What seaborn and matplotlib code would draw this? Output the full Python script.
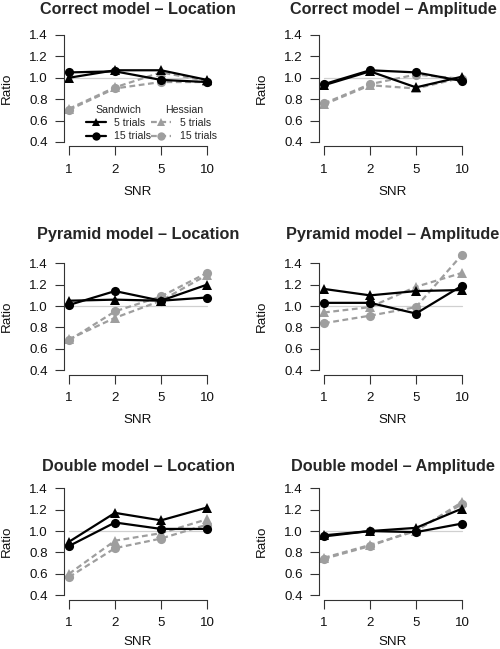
import numpy as np
import pandas as pd
import matplotlib
matplotlib.use("Agg")
import matplotlib.pyplot as plt
from matplotlib.lines import Line2D
import seaborn as sns

# SNR levels on the x axis (plotted as evenly spaced categories)
snr = [1, 2, 5, 10]

series_names = ["Hessian 5 trials", "Hessian 15 trials", "Sandwich 5 trials", "Sandwich 15 trials"]

# ratio values per panel
correct_location = {
    "Sandwich 5 trials": [1.00, 1.07, 1.07, 0.98],
    "Sandwich 15 trials": [1.05, 1.06, 0.98, 0.96],
    "Hessian 5 trials": [0.71, 0.91, 1.05, 0.97],
    "Hessian 15 trials": [0.70, 0.90, 0.96, 0.96],
}
correct_amplitude = {
    "Sandwich 5 trials": [0.93, 1.06, 0.91, 1.01],
    "Sandwich 15 trials": [0.94, 1.07, 1.05, 0.97],
    "Hessian 5 trials": [0.75, 0.93, 0.90, 1.00],
    "Hessian 15 trials": [0.76, 0.94, 1.03, 0.99],
}
pyramid_location = {
    "Sandwich 5 trials": [1.05, 1.06, 1.05, 1.20],
    "Sandwich 15 trials": [1.01, 1.14, 1.05, 1.08],
    "Hessian 5 trials": [0.69, 0.89, 1.05, 1.29],
    "Hessian 15 trials": [0.68, 0.95, 1.09, 1.31],
}
pyramid_amplitude = {
    "Sandwich 5 trials": [1.16, 1.10, 1.14, 1.15],
    "Sandwich 15 trials": [1.03, 1.03, 0.93, 1.19],
    "Hessian 5 trials": [0.94, 0.99, 1.18, 1.31],
    "Hessian 15 trials": [0.84, 0.91, 0.99, 1.48],
}
double_location = {
    "Sandwich 5 trials": [0.90, 1.17, 1.10, 1.22],
    "Sandwich 15 trials": [0.86, 1.08, 1.02, 1.02],
    "Hessian 5 trials": [0.60, 0.91, 0.98, 1.11],
    "Hessian 15 trials": [0.57, 0.84, 0.93, 1.06],
}
double_amplitude = {
    "Sandwich 5 trials": [0.96, 1.00, 1.03, 1.21],
    "Sandwich 15 trials": [0.95, 1.00, 0.99, 1.07],
    "Hessian 5 trials": [0.75, 0.87, 1.00, 1.27],
    "Hessian 15 trials": [0.74, 0.86, 1.01, 1.25],
}

panels = [
    ("Correct model \u2013 Location", correct_location),
    ("Correct model \u2013 Amplitude", correct_amplitude),
    ("Pyramid model \u2013 Location", pyramid_location),
    ("Pyramid model \u2013 Amplitude", pyramid_amplitude),
    ("Double model \u2013 Location", double_location),
    ("Double model \u2013 Amplitude", double_amplitude),
]

sns.set_style("ticks")
plt.rcParams['font.family'] = ['Liberation Sans', 'DejaVu Sans']

GREY = '#9e9e9e'
palette = {"Sandwich 5 trials": 'black', "Sandwich 15 trials": 'black',
           "Hessian 5 trials": GREY, "Hessian 15 trials": GREY}
markers = {"Sandwich 5 trials": '^', "Sandwich 15 trials": 'o',
           "Hessian 5 trials": '^', "Hessian 15 trials": 'o'}
dashes = {"Sandwich 5 trials": '', "Sandwich 15 trials": '',
          "Hessian 5 trials": (2.6, 1.6), "Hessian 15 trials": (2.6, 1.6)}

W, H = 500, 649
fig = plt.figure(figsize=(W / 100, H / 100), dpi=100)

# axes boxes in pixels (left, top, width, height)
col_left = [63.5, 318.5]
row_top = [30.7, 259.0, 484.0]
ax_w, ax_h = 149.0, 115.5
title_pad = [12.0, 14.5, 9.5]
xlabel_pad = [7.0, 7.0, 5.0]

for i, (title, data) in enumerate(panels):
    r, c = divmod(i, 2)
    left, top = col_left[c], row_top[r]
    ax = fig.add_axes([left / W, 1 - (top + ax_h) / H, ax_w / W, ax_h / H])

    rows = []
    for name in series_names:
        for k, v in enumerate(data[name]):
            rows.append({"pos": k, "ratio": v, "series": name})
    df = pd.DataFrame(rows)

    ax.plot([0, len(snr) - 1], [1, 1], color='#d0d0d0', lw=0.9, zorder=0)
    sns.lineplot(data=df, x="pos", y="ratio", hue="series", style="series",
                 hue_order=series_names, style_order=series_names,
                 palette=palette, markers=markers, dashes=dashes,
                 linewidth=1.6, markersize=6.6, markeredgewidth=0,
                 clip_on=False, legend=False, ax=ax)

    ax.set_xlim(-0.12, len(snr) - 1 + 0.12)
    ax.set_ylim(0.36, 1.44)
    ax.set_xticks(np.arange(len(snr)))
    ax.set_xticklabels([str(s) for s in snr])
    ax.set_yticks([0.4, 0.6, 0.8, 1.0, 1.2, 1.4])
    ax.set_yticklabels(["0.4", "0.6", "0.8", "1.0", "1.2", "1.4"])
    for side in ['top', 'right']:
        ax.spines[side].set_visible(False)
    ax.spines['left'].set_bounds(0.4, 1.4)
    ax.spines['bottom'].set_bounds(0, len(snr) - 1)
    for side in ['left', 'bottom']:
        ax.spines[side].set_linewidth(0.8)
        ax.spines[side].set_color('#333333')
    ax.tick_params(axis='both', length=6.2, width=0.8, color='#333333',
                   labelsize=9.6, labelcolor='#111111')
    ax.tick_params(axis='x', pad=6.5)
    ax.tick_params(axis='y', pad=5.0)
    ax.set_xlabel("SNR", fontsize=9.6, labelpad=xlabel_pad[r], color='#111111')
    ax.set_ylabel("Ratio", fontsize=9.6, labelpad=12, color='#111111')
    ax.set_title(title, fontsize=11.7, fontweight='bold', pad=title_pad[r])

    if i == 0:
        sw = [Line2D([], [], color='black', lw=1.6, marker=m, ms=6, mew=0) for m in ['^', 'o']]
        he = [Line2D([], [], color=GREY, lw=1.6, ls=(0, (2.6, 1.6)), marker=m, ms=6, mew=0)
              for m in ['^', 'o']]
        kw = dict(frameon=False, fontsize=7.6, title_fontsize=7.6, handlelength=1.9,
                  labelspacing=0.3, handletextpad=0.8, borderpad=0, loc='center')
        leg1 = ax.legend(sw, ["5 trials", "15 trials"], title="Sandwich",
                         bbox_to_anchor=(0.37, 0.20), **kw)
        ax.add_artist(leg1)
        ax.legend(he, ["5 trials", "15 trials"], title="Hessian",
                  bbox_to_anchor=(0.81, 0.20), **kw)

fig.savefig("out.png", dpi=100)
